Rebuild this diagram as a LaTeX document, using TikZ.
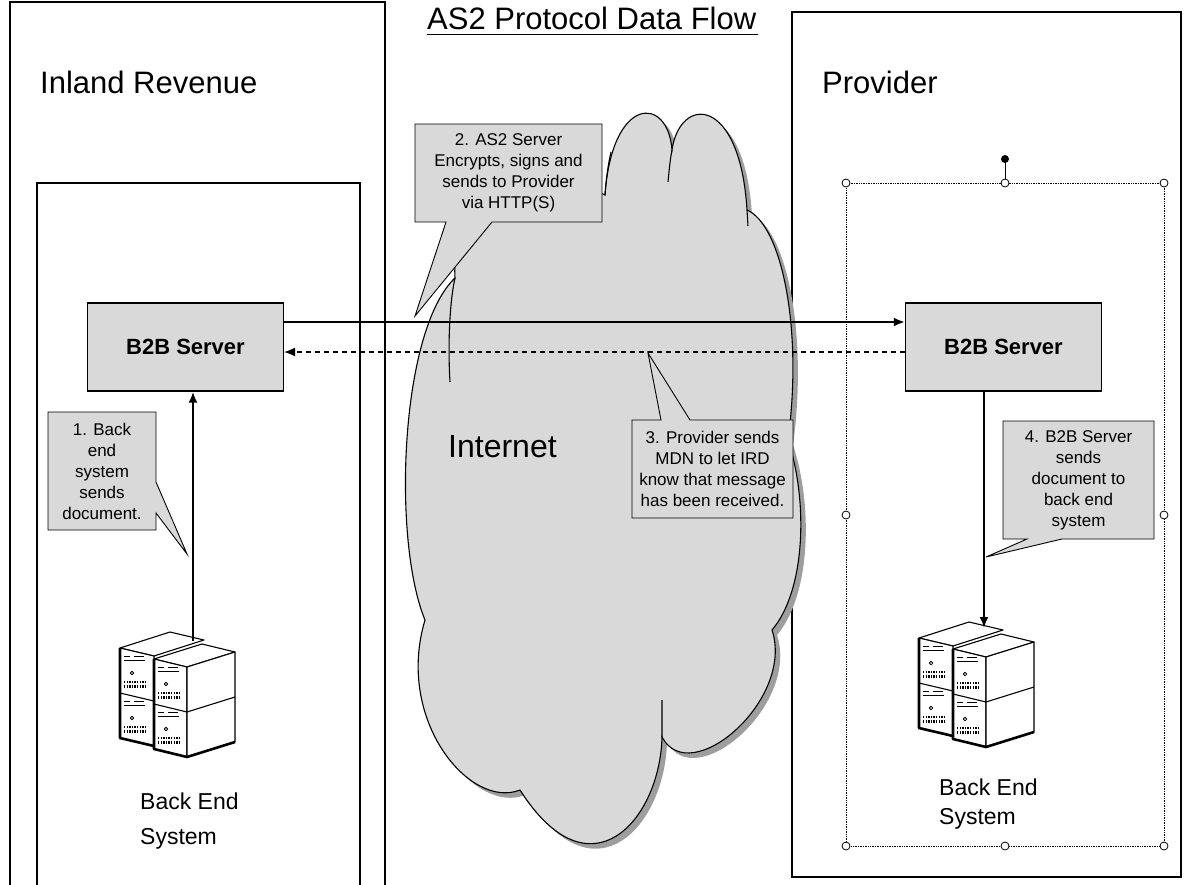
\documentclass[tikz,border=0pt]{standalone}
\usepackage{fontspec}
\setmainfont{Liberation Sans}
\usetikzlibrary{arrows.meta}

\tikzset{
  % one stacked server unit: front face details in a slanted frame
  facedetail/.pic={
    \draw[line width=0.9pt] (4,8) -- (10,8) (14,8) -- (24,8) (4,12) -- (25,12);
    \draw[line width=0.8pt] (12,25) circle (1.8);
    \draw[line width=2.2pt,dash pattern=on 1.3pt off 1.3pt] (4,34) -- (27,34) (4,38.5) -- (27,38.5);
  },
  rack/.pic={
    \begin{scope}[line width=1.1pt,line join=round,fill=white]
      % back column
      \filldraw (0,16) -- (50,0) -- (84,8) -- (34,24) -- cycle;
      \filldraw (0,16) -- (34,24) -- (34,114) -- (0,106) -- cycle;
      \draw (0,61) -- (34,69);
      \begin{scope}[shift={(0,16)},yslant=-0.235]
        \pic {facedetail};
        \pic at (0,45) {facedetail};
      \end{scope}
      \draw[line width=2.6pt] (0,16) -- (0,106) -- (34,114);
      % front column
      \filldraw (34,27) -- (82,12) -- (115,20) -- (67,35) -- cycle;
      \filldraw (34,27) -- (67,35) -- (67,125) -- (34,117) -- cycle;
      \filldraw (67,35) -- (115,20) -- (115,110) -- (67,125) -- cycle;
      \draw (34,72) -- (67,80) -- (115,65);
      \begin{scope}[shift={(34,27)},yslant=-0.242]
        \pic {facedetail};
        \pic at (0,45) {facedetail};
      \end{scope}
      \draw[line width=2.6pt] (34,27) -- (34,117) -- (67,125) -- (115,110);
    \end{scope}
  }
}

\begin{document}
\begin{tikzpicture}[x=1pt,y=-1pt,
  panel/.style={draw=black,line width=1.1pt},
  srv/.style={draw=black,line width=1.3pt,fill=black!15,minimum width=196pt,
    minimum height=88pt,inner sep=0pt,font=\fontsize{22}{26}\selectfont\bfseries},
  note/.style={align=center,font=\fontsize{17}{21}\selectfont,inner sep=0pt},
  notebox/.style={draw=black,line width=0.9pt,fill=black!15,line join=miter},
  flow/.style={line width=2.2pt,-{Latex[length=11pt,width=9pt]}},
  reply/.style={line width=1.1pt,dash pattern=on 5pt off 4pt,-{Latex[length=11pt,width=9pt]}},
  handle/.style={circle,draw=black,fill=white,line width=0.8pt,inner sep=0pt,minimum size=8pt},
  heading/.style={font=\fontsize{31}{36}\selectfont,inner sep=0pt,anchor=base west},
  backend/.style={align=left,font=\fontsize{23}{29}\selectfont,inner sep=0pt,anchor=north west}
]
\useasboundingbox (0,0) rectangle (1189,884);

% ---- title ----
\node[heading] (title) at (427,29) {AS2 Protocol Data Flow};
\draw[line width=1pt] (title.base west) ++(0,5) -- ++(331,0);

% ---- organisation panels ----
\draw[panel] (10,890) -- (10,2) -- (385,2) -- (385,890);
\draw[panel] (37,890) -- (37,183) -- (360,183) -- (360,890);
\draw[panel] (792,12) rectangle (1181,877);

\node[heading] (ird) at (40,93) {Inland Revenue};
\node[heading] (prov) at (822,93) {Provider};

% ---- Internet cloud ----
\def\cloudpath{
  (605,195) .. controls (612,95) and (668,95) .. (672,150)
  .. controls (680,95) and (740,95) .. (747,210)
  .. controls (782,225) and (803,330) .. (788,440)
  .. controls (808,500) and (806,590) .. (772,630)
  .. controls (795,700) and (690,790) .. (662,737)
  .. controls (660,820) and (590,900) .. (520,790)
  .. controls (470,810) and (395,720) .. (425,620)
  .. controls (392,540) and (400,330) .. (455,278)
  .. controls (450,200) and (530,160) .. (605,195) -- cycle}
\fill[black!38,shift={(5,5)}] \cloudpath;
\filldraw[fill=black!15,draw=black,line width=1.1pt] \cloudpath;
\draw[line width=1.1pt]
  (672,150) .. controls (670,160) and (669,172) .. (668,182)
  (605,195) .. controls (606,180) and (608,165) .. (611,152)
  (747,210) -- (748,226)
  (662,737) -- (662,700)
  (455,278) .. controls (449,305) and (448,350) .. (450,382);
\node[font=\fontsize{32}{36}\selectfont,inner sep=0pt,anchor=base west] (net) at (448,457) {Internet};

% ---- selection frame round the provider side ----
\draw[line width=0.7pt,densely dotted] (846,183) rectangle (1164,846);
\draw[line width=0.9pt] (1005,183) -- (1005,160);
\node[circle,fill=black,inner sep=0pt,minimum size=8pt] (rot) at (1005,159) {};
\foreach \p [count=\i] in {(846,183),(1005,183),(1164,183),(846,515),(1164,515),(846,846),(1005,846),(1164,846)}
  \node[handle] (h\i) at \p {};

% ---- servers ----
\node[srv] (srvL) at (185.5,347) {B2B Server};
\node[srv] (srvR) at (1003.5,347) {B2B Server};

\pic at (120,632) {rack};
\pic at (919,622) {rack};
\coordinate (stackL) at (193,641);
\coordinate (stackR) at (984,628);

\node[backend] (beL) at (140,793) {Back End\\[6pt]System};
\node[backend] (beR) at (939,779) {Back End\\System};

% ---- message flow ----
\draw[flow] ([yshift=25pt]srvL.east) -- ([yshift=25pt]srvR.west);
\draw[reply] ([yshift=-5pt]srvR.west) -- ([yshift=-5pt]srvL.east);
\draw[flow] (stackL) -- (stackL |- srvL.south);
\draw[flow] (stackR |- srvR.south) -- (stackR);

% ---- callouts ----
\filldraw[notebox] (48,412) -- (156,412) -- (156,482) -- (187,554) -- (156,513) -- (156,530) -- (48,530) -- cycle;
\node[note] (n1) at (102,471) {1. Back\\end\\system\\sends\\document.};

\filldraw[notebox] (415,124) -- (602,124) -- (602,222) -- (492,222) -- (415,316) -- (446,222) -- (415,222) -- cycle;
\node[note] (n2) at (508.5,173) {2. AS2 Server\\Encrypts, signs and\\sends to Provider\\via HTTP(S)};

\filldraw[notebox] (632,420) -- (661,420) -- (648,353) -- (690,420) -- (793,420) -- (793,518) -- (632,518) -- cycle;
\node[note] (n3) at (712.5,469) {3. Provider sends\\MDN to let IRD\\know that message\\has been received.};

\filldraw[notebox] (1003,421) -- (1154,421) -- (1154,539) -- (1062,539) -- (986,557) -- (1027,539) -- (1003,539) -- cycle;
\node[note] (n4) at (1078.5,480) {4. B2B Server\\sends\\document to\\back end\\system};

\end{tikzpicture}
\end{document}
